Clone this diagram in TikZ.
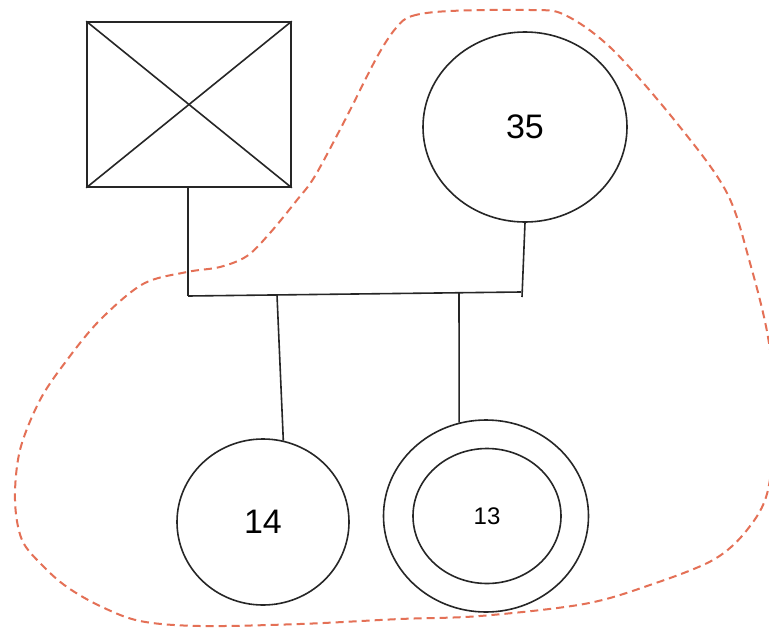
\documentclass[tikz,border=0pt]{standalone}
\usepackage{fontspec}
\setmainfont{Liberation Sans}
\usetikzlibrary{shapes.geometric}
\definecolor{hull}{RGB}{228,112,86}
\tikzset{
  pline/.style={draw=black!85, line width=1.6pt},
  person/.style={ellipse, draw=black!85, line width=1.6pt, inner sep=0pt},
  hullline/.style={draw=hull, line width=2pt, dash pattern=on 8pt off 5pt, line cap=butt}
}
\begin{document}
\begin{tikzpicture}[x=1pt,y=-1pt]
\fill[white] (0,0) rectangle (769,627);
\useasboundingbox (0,0) rectangle (769,627);
% father (deceased)
\node[pline, rectangle, minimum width=204pt, minimum height=165pt, inner sep=0pt] (sq) at (189,104.5) {};
\draw[pline] (sq.north west) -- (sq.south east);
\draw[pline] (sq.south west) -- (sq.north east);
% mother
\node[person, minimum width=204pt, minimum height=190pt, font=\fontsize{34}{40}\selectfont] (m) at (525,127) {35};
% children
\node[person, minimum width=172pt, minimum height=166pt, font=\fontsize{34}{40}\selectfont] (c1) at (263,522) {14};
\node[person, minimum width=205pt, minimum height=192pt] (c2) at (486,516) {};
\node[person, minimum width=148pt, minimum height=135pt, font=\fontsize{24}{28}\selectfont] (c2i) at (487,516) {13};
% connectors
\coordinate (barL) at (188,296);
\coordinate (barR) at (521,292);
\coordinate (mEnd) at (522,297);
\coordinate (b1) at (277,295);
\coordinate (b2) at (459,292);
\draw[pline] (sq.south -| barL) -- (barL);
\draw[pline] (m.south) -- (mEnd);
\draw[pline] (barL) -- (barR);
\draw[pline] (b1) -- (c1.76);
\draw[pline] (b2) -- (c2.106);
% household outline
\draw[hullline] plot[smooth cycle, tension=0.55] coordinates {
 (396,28) (412,16) (450,11) (530,10) (565,15) (613,50) (680,127) (727,193)
 (750,263) (768,337) (775,410) (768,490) (747,530) (713,560) (650,585)
 (584,604) (480,616) (400,619) (300,624) (200,626) (140,621) (100,606)
 (67,587) (43,566) (22,540) (15,500) (20,450) (40,400) (67,360) (100,320)
 (143,284) (187,272) (220,267) (247,256) (270,233) (297,200) (315,176)
 (345,120) (377,57)};
\end{tikzpicture}
\end{document}
